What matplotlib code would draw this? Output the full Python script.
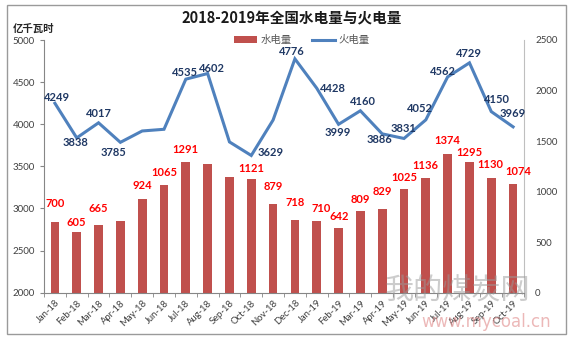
import matplotlib
matplotlib.use("Agg")
import matplotlib.pyplot as plt
from matplotlib.patches import Patch, Rectangle
from matplotlib.lines import Line2D

plt.rcParams['font.family'] = ['Lato', 'Noto Sans CJK SC', 'DejaVu Sans']

months = ['Jan-18', 'Feb-18', 'Mar-18', 'Apr-18', 'May-18', 'Jun-18', 'Jul-18',
          'Aug-18', 'Sep-18', 'Oct-18', 'Nov-18', 'Dec-18', 'Jan-19', 'Feb-19',
          'Mar-19', 'Apr-19', 'May-19', 'Jun-19', 'Jul-19', 'Aug-19', 'Sep-19',
          'Oct-19']
hydro = [700, 605, 665, 705, 924, 1065, 1291, 1270, 1141, 1121, 879, 718,
         710, 642, 809, 829, 1025, 1136, 1374, 1295, 1130, 1074]
thermal = [4249, 3838, 4017, 3785, 3920, 3940, 4535, 4602, 3790, 3629, 4050,
           4776, 4428, 3999, 4160, 3886, 3831, 4052, 4562, 4729, 4150, 3969]
hydro_labeled = [True, True, True, False, True, True, True, False, False, True,
                 True, True, True, True, True, True, True, True, True, True,
                 True, True]
thermal_labeled = [True, True, True, True, False, False, True, True, False,
                   True, False, True, True, True, True, True, True, True, True,
                   True, True, True]

# label offsets in pixels (dx, dy)
hydro_off = [(0, 13), (0, 4), (0, 11), (0, 8), (0, 8), (0, 7.5), (0, 7), (0, 6),
             (0, 6), (0, 5.5), (0, 12), (0, 12), (4, 7), (1, 6), (0, 6), (0, 12),
             (0, 6.5), (0, 7), (0, 8), (0, 4), (-1, 8), (5, 7.5)]
thermal_off = [(2, 6), (-1, -5), (0, 9), (-7, -10), (0, 8), (0, 8), (-1, 7),
               (4, 5), (0, 8), (19, 3), (0, 8), (-3, 7), (16, 0), (-1, -8),
               (3, 9), (-3, -6), (0, 10), (-6, 11), (-5, 5), (-1, 9), (6, 12),
               (0, 13)]

BAR_COLOR = '#C0504D'
LINE_COLOR = '#4F81BD'
AXIS_GRAY = '#868686'

fig = plt.figure(figsize=(5.73, 3.42), dpi=100)
fig.patch.set_facecolor('white')
fig.add_artist(Rectangle((7 / 573, 1 - 334 / 342), 559 / 573, 329 / 342,
                         transform=fig.transFigure, fill=False,
                         edgecolor='#9A9A9A', linewidth=1.0))

ax = fig.add_axes([44 / 573, 1 - 292.7 / 342, 480 / 573, 252.7 / 342])
ax2 = ax.twinx()
ax.set_zorder(ax2.get_zorder() + 1)
ax.patch.set_visible(False)

x = list(range(len(months)))

# hydro bars on the right axis
ax2.bar(x, hydro, width=0.4, color=BAR_COLOR, zorder=2)
ax2.set_ylim(0, 2500)
ax2.set_yticks(range(0, 2501, 500))
for i, v in enumerate(hydro):
    if hydro_labeled[i]:
        dx, dy = hydro_off[i]
        ax2.annotate(str(v), (i, v), xytext=(dx, dy), textcoords='offset pixels',
                     ha='center', va='bottom', fontsize=8, fontweight='bold',
                     color='#FF0000')

# thermal line on the left axis
ax.plot(x, thermal, color=LINE_COLOR, linewidth=2.2, solid_joinstyle='miter')
ax.set_ylim(2000, 5000)
ax.set_yticks(range(2000, 5001, 500))
for i, v in enumerate(thermal):
    if thermal_labeled[i]:
        dx, dy = thermal_off[i]
        ax.annotate(str(v), (i, v), xytext=(dx, dy), textcoords='offset pixels',
                    ha='center', va='center', fontsize=8, fontweight='bold',
                    color='#1F3864')

ax.set_xlim(-0.5, len(months) - 0.5)
ax.set_xticks(x)
ax.set_xticklabels(months, rotation=45, ha='right', rotation_mode='anchor',
                   fontsize=6.8, color='#404040')
ax.set_xticks([i + 0.5 for i in range(-1, len(months))], minor=True)
ax.tick_params(axis='x', which='major', length=0, pad=4)
ax.tick_params(axis='x', which='minor', length=3, color=AXIS_GRAY, direction='out')
ax.tick_params(axis='y', length=3, color=AXIS_GRAY, labelsize=7, labelcolor='#404040')
ax2.tick_params(axis='y', length=0, labelsize=7, labelcolor='#404040', pad=8)

for a in (ax, ax2):
    a.spines['top'].set_visible(False)
ax.spines['left'].set_color(AXIS_GRAY)
ax.spines['bottom'].set_color(AXIS_GRAY)
ax.spines['right'].set_visible(False)
ax2.spines['left'].set_visible(False)
ax2.spines['bottom'].set_visible(False)
ax2.spines['right'].set_color('#BFBFBF')

fig.text(0.509, 1 - 18 / 342, '2018-2019年全国水电量与火电量', ha='center',
         va='center', fontsize=10.5, fontweight='bold', color='#1A1A1A',
         family=['Noto Sans CJK SC', 'DejaVu Sans'])
fig.text(13 / 573, 1 - 29 / 342, '亿千瓦时', ha='left', va='center', fontsize=7.5,
         fontweight='bold', color='#262626', family=['Noto Sans CJK SC'])

handles = [Patch(facecolor=BAR_COLOR, edgecolor='none'),
           Line2D([0], [0], color=LINE_COLOR, linewidth=2.2)]
leg = fig.legend(handles, ['水电量', '火电量'], loc='center',
                 bbox_to_anchor=(302 / 573, 1 - 40 / 342), ncol=2, frameon=False,
                 fontsize=7.5, handlelength=2.2, handleheight=0.6,
                 columnspacing=2.0, handletextpad=0.3,
                 prop={'family': ['Noto Sans CJK SC'], 'size': 7.5})
for t in leg.get_texts():
    t.set_color('#595959')

# site watermark
fig.text(458 / 573, 1 - 292 / 342, '我的煤炭网', ha='center', va='center',
         fontsize=21, color='#9A9A9A', alpha=0.5,
         family=['Noto Sans CJK SC'], zorder=10)
fig.text(486 / 573, 1 - 322 / 342, 'www.mycoal.cn', ha='center', va='center',
         fontsize=12, color='#E08A8A', alpha=0.6, family=['DejaVu Sans'],
         zorder=10)

fig.savefig('out.png', dpi=100)
